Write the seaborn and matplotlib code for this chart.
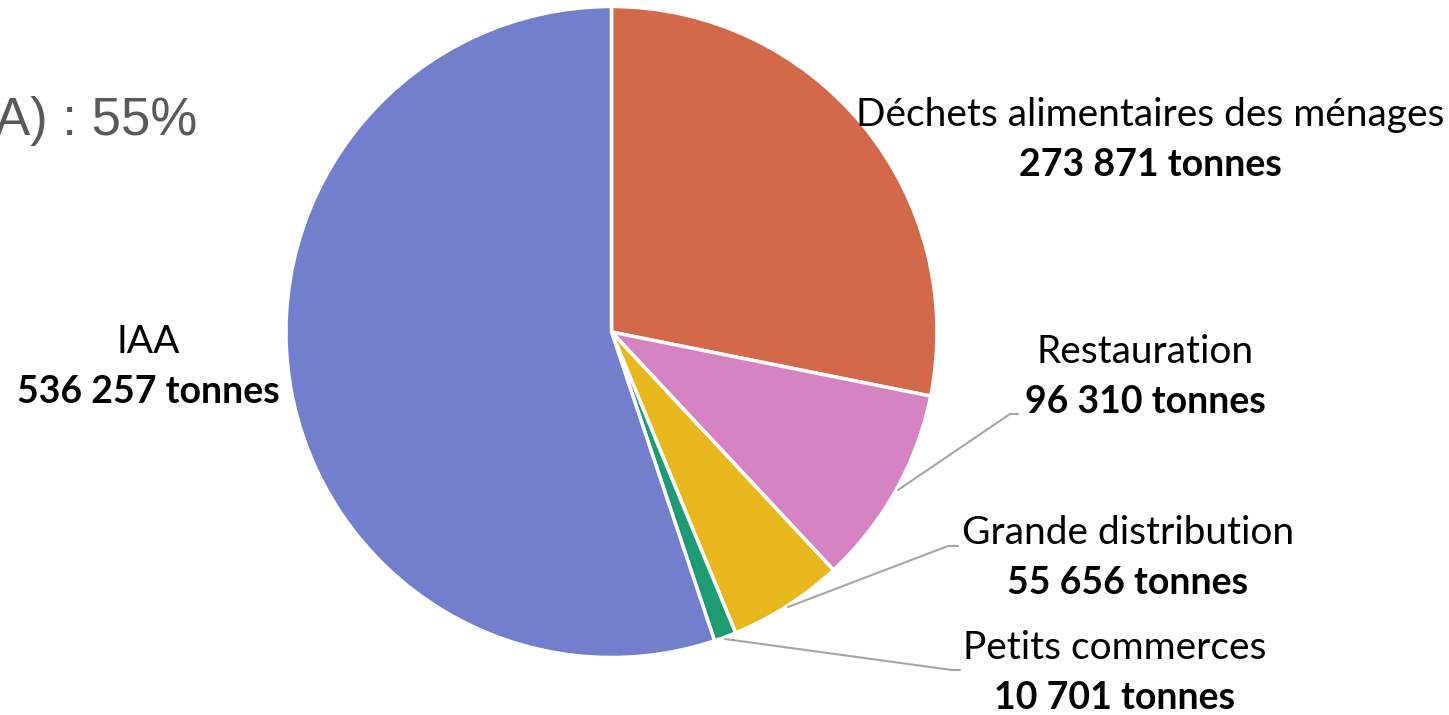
import matplotlib
matplotlib.use("Agg")
import matplotlib.pyplot as plt
import seaborn as sns

# ── Data ──────────────────────────────────────────────────────────────────────
categories = ["Déchets alimentaires des ménages", "Restauration",
              "Grande distribution", "Petits commerces", "IAA"]
tonnes = [273871, 96310, 55656, 10701, 536257]
value_labels = ["273 871 tonnes", "96 310 tonnes", "55 656 tonnes",
                "10 701 tonnes", "536 257 tonnes"]
colors = ["#D2694A", "#D583C3", "#E9B81E", "#1E9B73", "#717FCC"]

# ── Layout (pixel coords, y measured from the top) ───────────────────────────
W, H = 1449, 715
CENTER = (611.5, 332)
RADIUS = 325.5
label_pos = [(1150, 115), (1145, 352), (1128, 533), (1115, 648), (148, 342)]
LINE_GAP = 50
leaders = {
    1: [(898, 490), (1010, 414), (1018, 414)],
    2: [(788, 607), (948, 546), (958, 546)],
    3: [(725, 639), (952, 670), (960, 670)],
}

sns.set_theme(style="white")
plt.rcParams["font.family"] = ["Lato", "DejaVu Sans"]

fig = plt.figure(figsize=(W / 100, H / 100), dpi=100)
ax = fig.add_axes([0, 0, 1, 1])


def fy(y):
    return H - y


ax.pie(tonnes, colors=colors, startangle=90, counterclock=False,
       center=(CENTER[0], fy(CENTER[1])), radius=RADIUS,
       wedgeprops=dict(edgecolor="white", linewidth=2.5), frame=True)
ax.set_xlim(0, W)
ax.set_ylim(0, H)
ax.axis("off")

# leader lines for the small slices
for i, pts in leaders.items():
    xs = [p[0] for p in pts]
    ys = [fy(p[1]) for p in pts]
    ax.plot(xs, ys, color="#A6A6A6", linewidth=1.5, zorder=1)

for (x, y), name, val in zip(label_pos, categories, value_labels):
    ax.text(x, fy(y), name, ha="center", va="center", fontsize=28,
            color="black")
    ax.text(x, fy(y + LINE_GAP), val, ha="center", va="center", fontsize=27,
            fontweight="bold", color="black")

# cropped heading fragment at the top left
ax.text(197, fy(121), "A) : 55%", ha="right", va="center", fontsize=38,
        color="#595959", family=["Liberation Sans", "DejaVu Sans"])

fig.savefig("out.png", dpi=100)
